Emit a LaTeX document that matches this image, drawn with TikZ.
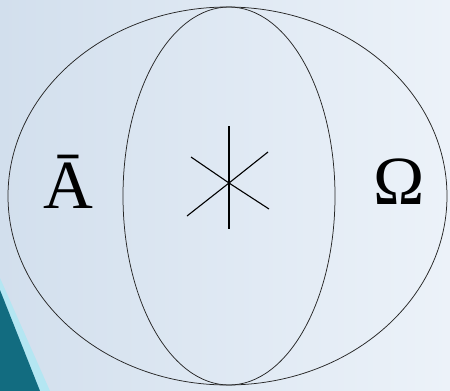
\documentclass[tikz,border=0pt]{standalone}
\usepackage{fontspec}
\setmainfont{Liberation Serif}
\usepackage{tikz}
\usetikzlibrary{positioning}
\definecolor{bgleft}{RGB}{210,223,237}
\definecolor{bgright}{RGB}{236,242,249}
\definecolor{myteal}{RGB}{18,108,128}
\definecolor{mycyan}{RGB}{180,230,242}
\tikzset{
  outline/.style={draw=black!85, line width=0.75pt},
  setlabel/.style={font=\fontsize{69}{69}\selectfont, inner sep=0pt, anchor=base},
  starline/.style={draw=black, line width=1.1pt}
}
\begin{document}
\begin{tikzpicture}[x=1pt, y=-1pt]
  % background
  \useasboundingbox (0,0) rectangle (450,391);
  \shade[left color=bgleft, right color=bgright] (0,0) rectangle (450,391);
  \fill[mycyan] (0,278) -- (50,391) -- (0,391) -- cycle;
  \fill[myteal] (0,290) -- (40,391) -- (0,391) -- cycle;

  % the two sets
  \draw[outline] (227.5,196) ellipse [x radius=219.5, y radius=189];
  \draw[outline] (229,196) ellipse [x radius=106, y radius=189];

  % labels
  \node[setlabel] (abar) at (68,208) {Ā};
  \node[setlabel] (omega) at (399,204) {Ω};

  % star in the middle
  \coordinate (mid) at (229,183);
  \draw[starline] (229,126) -- (mid) -- (229,229);
  \draw[starline] (191,157) -- (mid) -- (269,209);
  \draw[starline] (268,152) -- (mid) -- (187,216);
\end{tikzpicture}
\end{document}
